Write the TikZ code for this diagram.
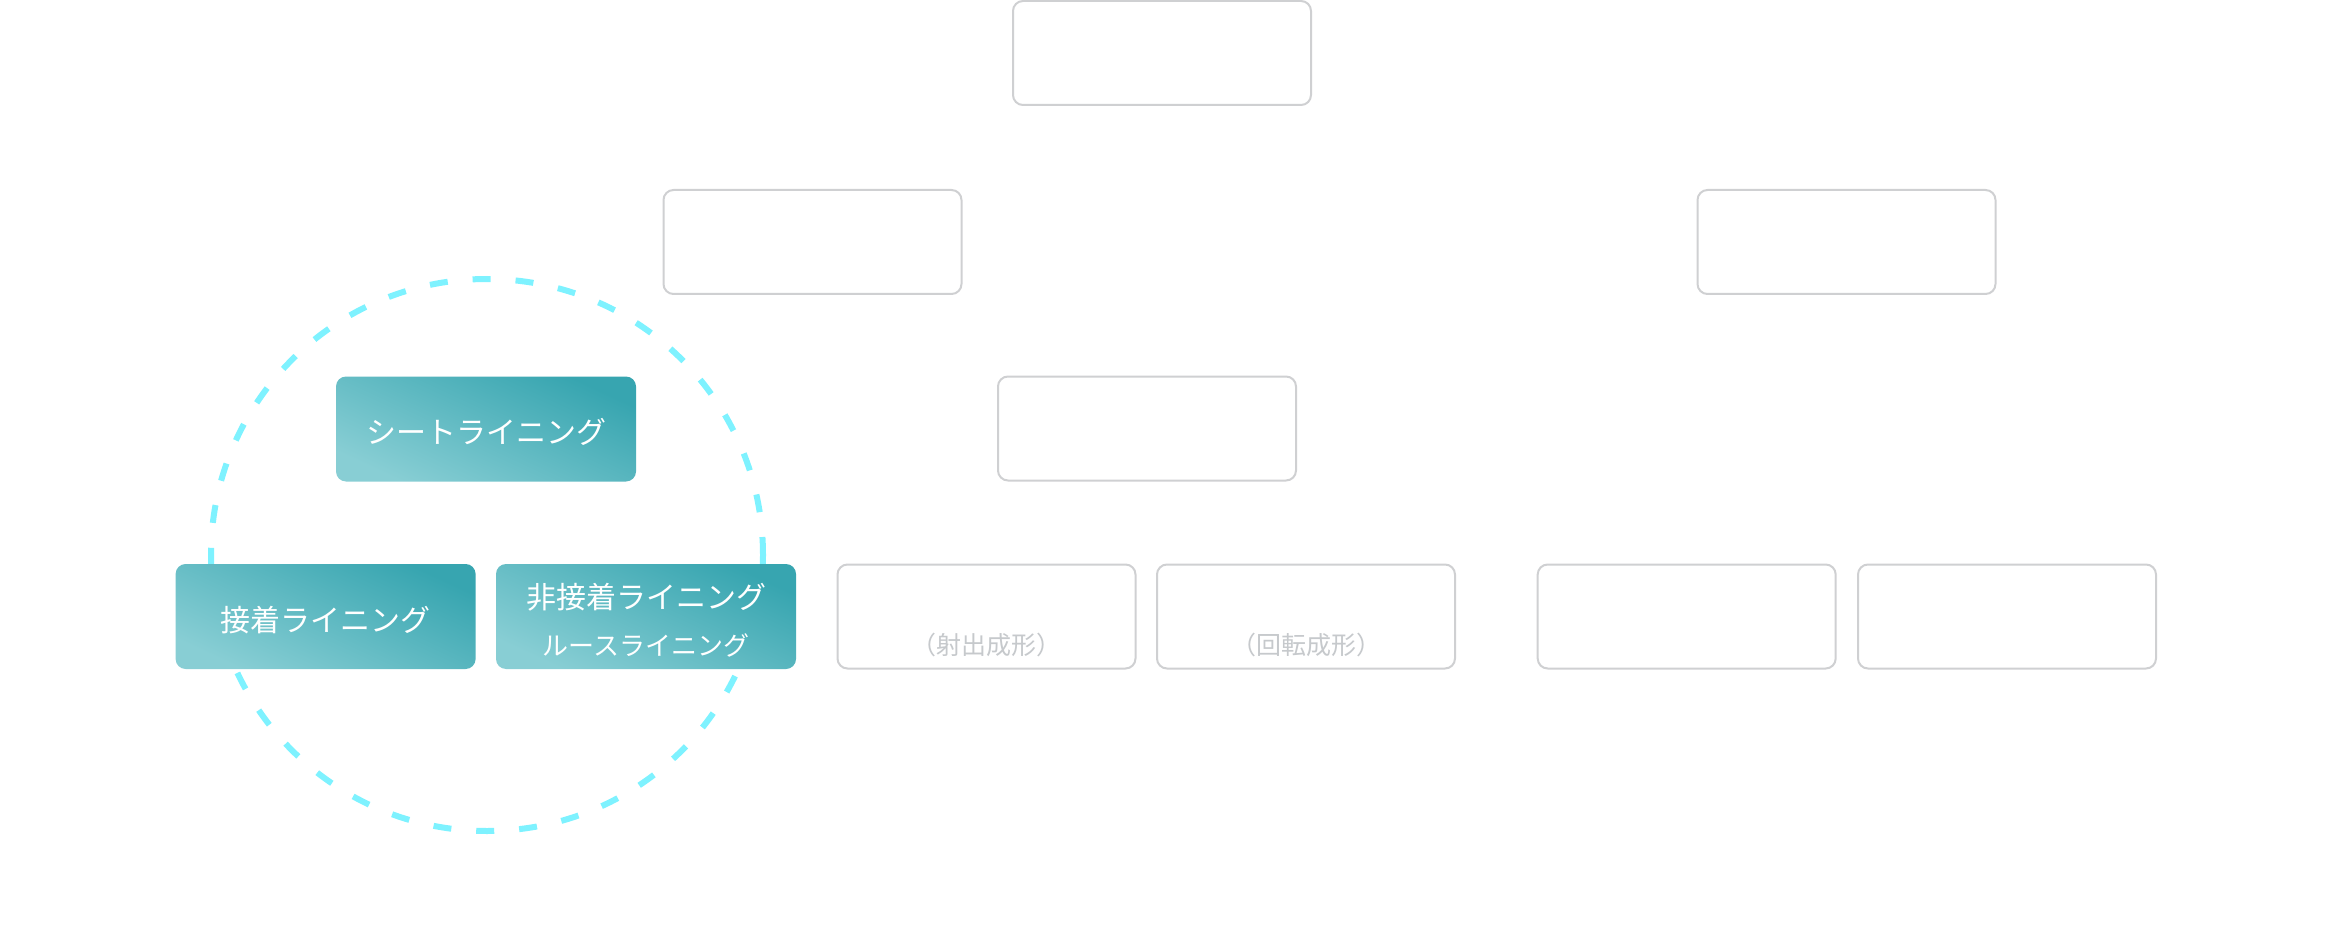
\documentclass[tikz,border=0pt]{standalone}
\usepackage{fontspec}
\newfontfamily\jp{Noto Sans CJK JP}
\definecolor{boxgray}{HTML}{CFD0D2}
\definecolor{txtgray}{HTML}{C6C9CC}
\definecolor{tealD}{HTML}{37A5B0}
\definecolor{tealL}{HTML}{88CED4}
\definecolor{dashcyan}{HTML}{7EF2FF}
\begin{document}
\begin{tikzpicture}[x=1pt,y=-1pt,
  graybox/.style={draw=boxgray, line width=2pt, rounded corners=10pt, fill=white,
    minimum width=298pt, minimum height=104pt, inner sep=0pt},
  tealbox/.style={rounded corners=10pt, top color=tealD, bottom color=tealL, shading angle=-25,
    draw=none, minimum width=300pt, minimum height=105pt, inner sep=0pt,
    text=white, font=\jp\fontsize{30}{36}\selectfont},
  graytxt/.style={text=txtgray, font=\jp\fontsize{25}{30}\selectfont, inner sep=0pt},
  subtxt/.style={text=white, font=\jp\fontsize{26}{31}\selectfont, inner sep=0pt},
  maintxt/.style={text=white, font=\jp\fontsize{30}{36}\selectfont, inner sep=0pt},
  ring/.style={draw=dashcyan, line width=6pt, dash pattern=on 18pt off 25pt}
]
\useasboundingbox (0,0) rectangle (2330,933);
% level 1
\node[graybox] (top) at (1162,53) {};
% level 2
\node[graybox] (l2a) at (812.5,242) {};
\node[graybox] (l2b) at (1846.5,242) {};
% dashed ring
\draw[ring] (487,555) circle[radius=276pt];
% level 3
\node[tealbox] (sheet) at (486,429) {};
\node[maintxt] (sheett) at (486,432) {シートライニング};
\node[graybox] (l3b) at (1147,428.5) {};
% level 4
\node[tealbox] (adh) at (325.6,616.5) {};
\node[maintxt] (adht) at (325.6,620) {接着ライニング};
\node[tealbox] (nonadh) at (646,616.5) {};
\node[maintxt] (nonadhA) at (646,597) {非接着ライニング};
\node[subtxt] (nonadhB) at (646,645) {ルースライニング};
\node[graybox] (inj) at (986.5,616.5) {};
\node[graytxt] (injt) at (986.5,645) {（射出成形）};
\node[graybox] (rot) at (1306,616.5) {};
\node[graytxt] (rott) at (1306,645) {（回転成形）};
\node[graybox] (r1) at (1686.7,616.5) {};
\node[graybox] (r2) at (2007,616.5) {};
\end{tikzpicture}
\end{document}
